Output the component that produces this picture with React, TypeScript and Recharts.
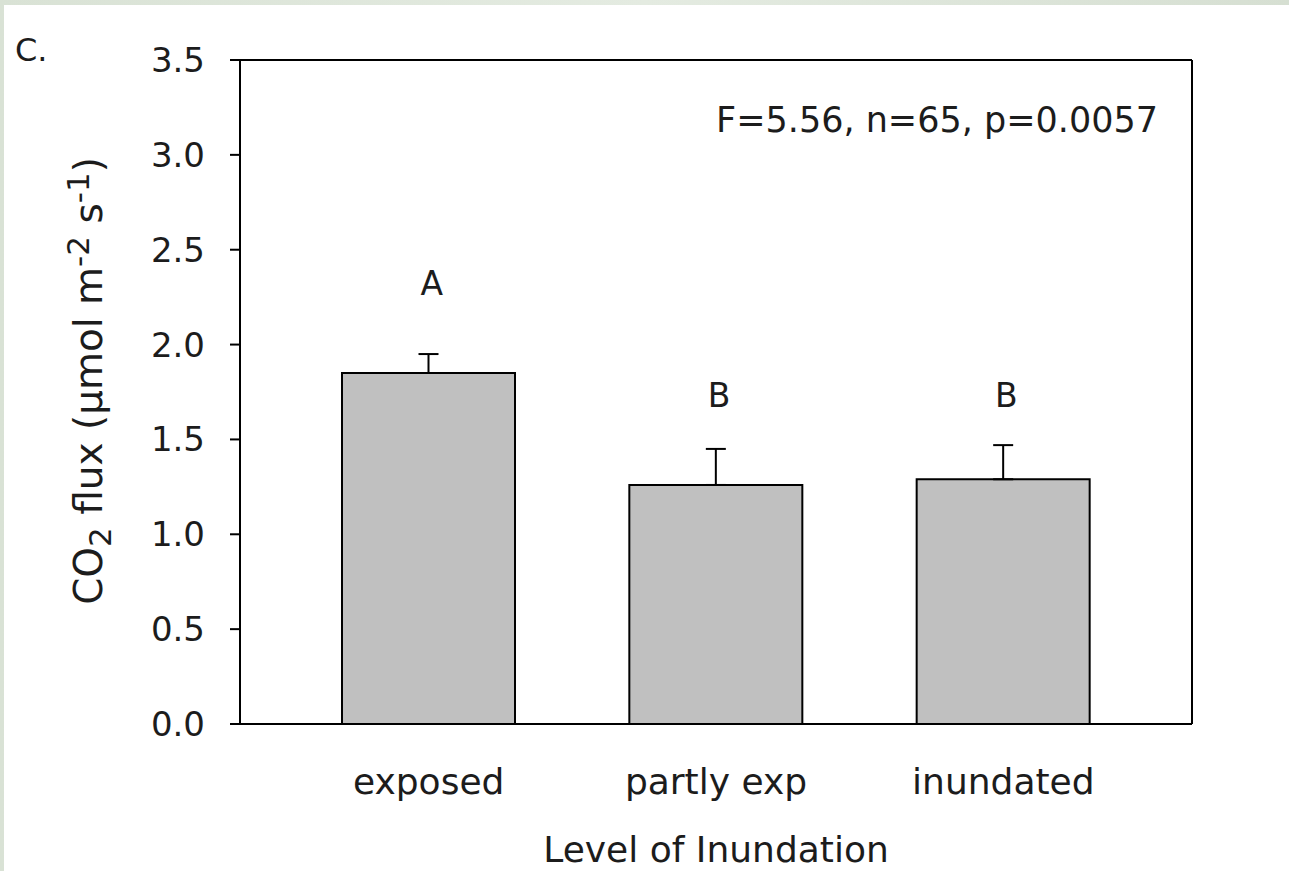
import React from 'react';
import { ComposedChart, Bar, XAxis, YAxis, ErrorBar, Scatter } from 'recharts';

// Mean soil CO2 flux by inundation level, with one-sided standard errors
const categories = ['exposed', 'partly exp', 'inundated'];
const meanFlux = [1.85, 1.26, 1.29];
const stdError = [0.1, 0.19, 0.18];
// Tukey grouping letters and the height at which each one sits
const groupLetters = ['A', 'B', 'B'];
const letterHeights = [2.26, 1.67, 1.67];
const yTicks = [0, 0.5, 1, 1.5, 2, 2.5, 3, 3.5];
const statsText = 'F=5.56, n=65, p=0.0057';
const panelTag = 'C.';

const data = categories.map((category, i) => ({
  category,
  flux: meanFlux[i],
  err: [0, stdError[i]],
  letterY: letterHeights[i],
  letter: groupLetters[i],
}));

const FONT = '"DejaVu Sans", "Liberation Sans", sans-serif';
const INK = '#1c1c1c';
const X_PAD = { left: 45, right: 45 };

const YTitle = (props: any) => {
  const vb = props.viewBox || { x: 0, y: 60, width: 240, height: 664 };
  const cx = vb.x + 102;
  const cy = vb.y + vb.height / 2 - 11;
  return (
    <text
      x={cx}
      y={cy}
      transform={`rotate(-90 ${cx} ${cy})`}
      textAnchor="middle"
      fontFamily={FONT}
      fontSize={39}
      fill={INK}
    >
      CO
      <tspan dy={9} fontSize={31}>2</tspan>
      <tspan dy={-9}> flux (µmol m</tspan>
      <tspan dy={-13} fontSize={31}>-2</tspan>
      <tspan dy={13}> s</tspan>
      <tspan dy={-13} fontSize={31}>-1</tspan>
      <tspan dy={13}>)</tspan>
    </text>
  );
};

const XTitle = (props: any) => {
  const vb = props.viewBox || { x: 240, y: 724, width: 952, height: 147 };
  return (
    <text
      x={vb.x + vb.width / 2}
      y={vb.y + 138}
      textAnchor="middle"
      fontFamily={FONT}
      fontSize={36}
      fill={INK}
    >
      Level of Inundation
    </text>
  );
};

const StatsLabel = (props: any) => {
  const vb = props.viewBox || { x: 240, y: 60, width: 952, height: 0 };
  return (
    <text
      x={vb.x + vb.width - 34}
      y={vb.y + vb.height + 72}
      textAnchor="end"
      fontFamily={FONT}
      fontSize={35}
      fill={INK}
    >
      {statsText}
    </text>
  );
};

const LetterShape = (props: any) => {
  const { cx, cy, payload } = props;
  return (
    <text x={cx + 3} y={cy} textAnchor="middle" fontFamily={FONT} fontSize={33} fill={INK}>
      {payload.letter}
    </text>
  );
};

export default function App() {
  return (
    <div
      style={{
        position: 'absolute',
        left: 0,
        top: 0,
        width: 1289,
        height: 871,
        background: 'linear-gradient(90deg, #d9e2d5 0%, #e4ebe1 50%, #d6dfd2 100%)',
        overflow: 'hidden',
      }}
    >
      <div
        style={{
          position: 'absolute',
          left: 4,
          top: 5,
          width: 1285,
          height: 866,
          background: '#ffffff',
        }}
      />
      <div style={{ position: 'absolute', left: 0, top: 0 }}>
        <ComposedChart
          width={1289}
          height={871}
          data={data}
          margin={{ top: 59, right: 96, bottom: 0, left: 0 }}
        >
          <text x={15} y={61} fontFamily={FONT} fontSize={32} fill={INK}>
            {panelTag}
          </text>
          <XAxis
            dataKey="category"
            type="category"
            height={147}
            padding={X_PAD}
            tickLine={false}
            tickSize={10}
            tickMargin={34}
            axisLine={{ stroke: '#000', strokeWidth: 2 }}
            tick={{ fill: INK, fontSize: 36, fontFamily: FONT }}
            label={<XTitle />}
          />
          {/* top and right axes close the plot frame */}
          <XAxis
            xAxisId="top"
            dataKey="category"
            type="category"
            orientation="top"
            height={1}
            padding={X_PAD}
            tick={false}
            tickLine={false}
            axisLine={{ stroke: '#000', strokeWidth: 2 }}
            label={<StatsLabel />}
          />
          <YAxis
            type="number"
            domain={[0, 3.5]}
            ticks={yTicks}
            width={240}
            tickSize={10}
            tickMargin={25}
            tickFormatter={(v: number) => v.toFixed(1)}
            axisLine={{ stroke: '#000', strokeWidth: 2 }}
            tickLine={{ stroke: '#000', strokeWidth: 2 }}
            tick={{ fill: INK, fontSize: 34, fontFamily: FONT }}
            label={<YTitle />}
          />
          <YAxis
            yAxisId="right"
            orientation="right"
            type="number"
            domain={[0, 3.5]}
            ticks={yTicks}
            width={1}
            tick={false}
            tickLine={false}
            axisLine={{ stroke: '#000', strokeWidth: 2 }}
          />
          <Bar
            dataKey="flux"
            barSize={173}
            fill="#c0c0c0"
            stroke="#000"
            strokeWidth={2}
            isAnimationActive={false}
          >
            <ErrorBar dataKey="err" direction="y" width={10} stroke="#000" strokeWidth={2} />
          </Bar>
          <Scatter
            dataKey="letterY"
            xAxisId="top"
            yAxisId="right"
            shape={<LetterShape />}
            isAnimationActive={false}
          />
        </ComposedChart>
      </div>
    </div>
  );
}
